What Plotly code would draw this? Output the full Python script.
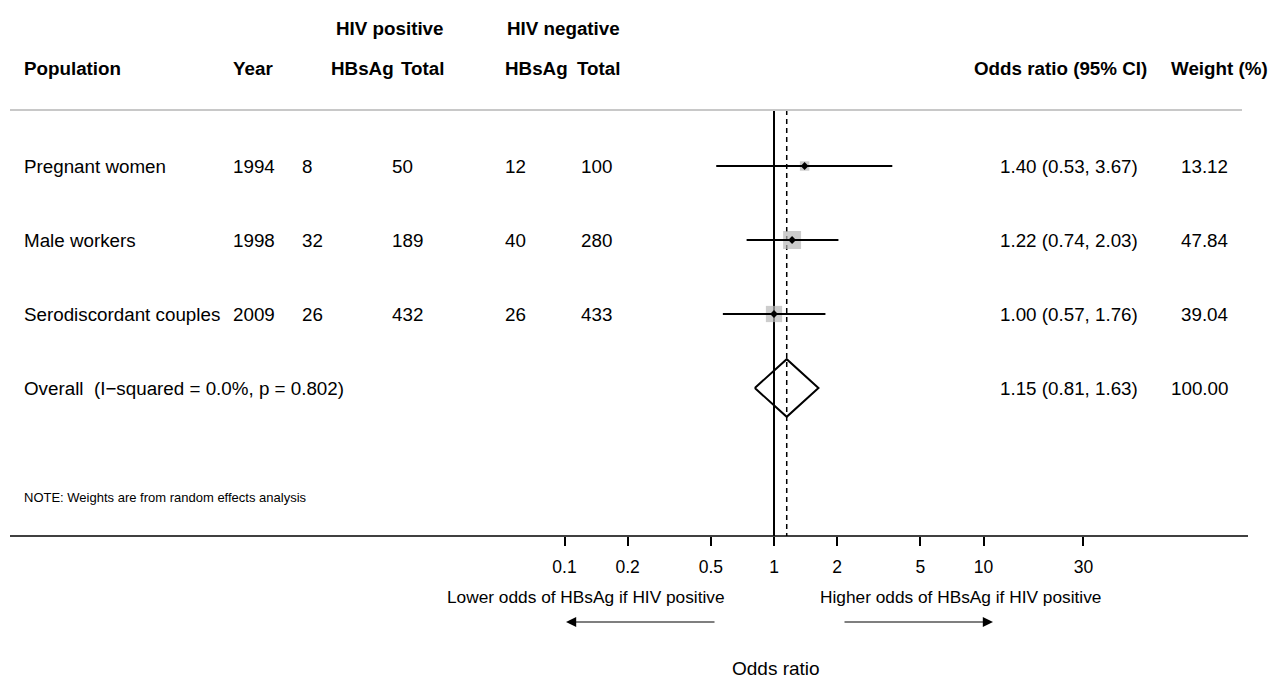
import math
import plotly.graph_objects as go

# ---------------- data ----------------
populations = ["Pregnant women", "Male workers", "Serodiscordant couples"]
years = [1994, 1998, 2009]
pos_hbsag = [8, 32, 26]
pos_total = [50, 189, 432]
neg_hbsag = [12, 40, 26]
neg_total = [100, 280, 433]
odds_ratio = [1.40, 1.22, 1.00]
ci_low = [0.53, 0.74, 0.57]
ci_high = [3.67, 2.03, 1.76]
weights = [13.12, 47.84, 39.04]

overall_label = "Overall  (I\u2212squared = 0.0%, p = 0.802)"
overall_or = 1.15
overall_low = 0.81
overall_high = 1.63
overall_weight = 100.00

null_value = 1
tick_values = [0.1, 0.2, 0.5, 1, 2, 5, 10, 30]
tick_labels = ["0.1", "0.2", "0.5", "1", "2", "5", "10", "30"]

# ---------------- layout constants ----------------
W, H = 1285, 680
PX_AT_1 = 774.0          # pixel of OR = 1
PX_PER_DECADE = 209.5
ROW0_PX = 166.0
ROW_PX = 74.0
FONT = "Liberation Sans, Arial, sans-serif"
TXT = 18.8


def px2log(px):
    return (px - PX_AT_1) / PX_PER_DECADE


def pyrow(py):
    return (py - ROW0_PX) / ROW_PX


def xp(px):
    return px / W


x_range = [px2log(0), px2log(W)]
y_range = [pyrow(H), pyrow(0)]
axis_row = pyrow(536)
header_row = pyrow(110)

fig = go.Figure()

rows = list(range(len(populations)))
overall_row = len(populations)

# null line and overall dashed line
fig.add_trace(go.Scatter(x=[null_value, null_value], y=[header_row, axis_row],
                         mode="lines", line=dict(color="black", width=2),
                         showlegend=False, hoverinfo="skip"))
fig.add_trace(go.Scatter(x=[overall_or, overall_or], y=[header_row, axis_row],
                         mode="lines", line=dict(color="black", width=1.5, dash="5px,4px"),
                         showlegend=False, hoverinfo="skip"))

# weight boxes
fig.add_trace(go.Scatter(x=odds_ratio, y=rows, mode="markers",
                         marker=dict(symbol="square", color="#b8b8b8",
                                     size=[2.6 * math.sqrt(w) for w in weights],
                                     line=dict(width=0)),
                         showlegend=False, hoverinfo="skip"))

# CI lines
for i in rows:
    fig.add_trace(go.Scatter(x=[ci_low[i], ci_high[i]], y=[i, i], mode="lines",
                             line=dict(color="black", width=2), hoverinfo="skip",
                             showlegend=False))

# point estimates
fig.add_trace(go.Scatter(x=odds_ratio, y=rows, mode="markers",
                         marker=dict(symbol="diamond", color="black", size=6,
                                     line=dict(width=0)),
                         showlegend=False, hoverinfo="skip"))

# overall diamond
dh = 0.39
fig.add_trace(go.Scatter(
    x=[overall_low, overall_or, overall_high, overall_or, overall_low],
    y=[overall_row, overall_row - dh, overall_row, overall_row + dh, overall_row],
    mode="lines", line=dict(color="black", width=2), showlegend=False,
    hoverinfo="skip"))

shapes = []
# header separator
shapes.append(dict(type="line", xref="paper", yref="y", x0=xp(10), x1=xp(1242),
                   y0=header_row, y1=header_row, line=dict(color="#c8c8c8", width=2)))
# x axis line
shapes.append(dict(type="line", xref="paper", yref="y", x0=xp(10), x1=xp(1248),
                   y0=axis_row, y1=axis_row, line=dict(color="black", width=1.5)))

ann = []


def txt(x, y, s, anchor="left", bold=False, size=TXT):
    ann.append(dict(x=x, y=y, xref="paper", yref="y", text=(f"<b>{s}</b>" if bold else s),
                    showarrow=False, xanchor=anchor, yanchor="middle",
                    font=dict(family=FONT, size=size, color="black")))


# headers
hdr1 = pyrow(28)
hdr2 = pyrow(68)
txt(xp(446), hdr1, "HIV positive", "right", True)
txt(xp(622), hdr1, "HIV negative", "right", True)
txt(xp(22), hdr2, "Population", "left", True)
txt(xp(231), hdr2, "Year", "left", True)
txt(xp(329), hdr2, "HBsAg", "left", True)
txt(xp(446), hdr2, "Total", "right", True)
txt(xp(503), hdr2, "HBsAg", "left", True)
txt(xp(622), hdr2, "Total", "right", True)
txt(xp(1149), hdr2, "Odds ratio (95% CI)", "right", True)
txt(xp(1270), hdr2, "Weight (%)", "right", True)

for i in rows:
    txt(xp(22), i, populations[i])
    txt(xp(231), i, str(years[i]))
    txt(xp(300), i, str(pos_hbsag[i]))
    txt(xp(390), i, str(pos_total[i]))
    txt(xp(503), i, str(neg_hbsag[i]))
    txt(xp(579), i, str(neg_total[i]))
    txt(xp(1140), i, f"{odds_ratio[i]:.2f} ({ci_low[i]:.2f}, {ci_high[i]:.2f})", "right")
    txt(xp(1230), i, f"{weights[i]:.2f}", "right")

txt(xp(22), overall_row, overall_label)
txt(xp(1140), overall_row, f"{overall_or:.2f} ({overall_low:.2f}, {overall_high:.2f})", "right")
txt(xp(1230), overall_row, f"{overall_weight:.2f}", "right")

txt(xp(22), pyrow(497), "NOTE: Weights are from random effects analysis", size=13)

# direction labels
txt(xp(727), pyrow(597), "Lower odds of HBsAg if HIV positive", "right", size=17.3)
txt(xp(818), pyrow(597), "Higher odds of HBsAg if HIV positive", "left", size=17.3)
txt(xp(776), pyrow(668), "Odds ratio", "center", size=19)

# arrows
arrow_row = pyrow(622)
for head, tail in [(566, 716), (993, 843)]:
    ann.append(dict(x=px2log(head), y=arrow_row, xref="x", yref="y",
                    ax=px2log(tail), ay=arrow_row, axref="x", ayref="y",
                    showarrow=True, arrowhead=2, arrowsize=1.7, arrowwidth=1.2,
                    arrowcolor="black", text=""))

fig.update_layout(
    width=W, height=H,
    margin=dict(l=0, r=0, t=0, b=0),
    paper_bgcolor="white", plot_bgcolor="white",
    showlegend=False,
    shapes=shapes, annotations=ann,
    font=dict(family=FONT, color="black"),
    xaxis=dict(type="log", range=x_range, showgrid=False, zeroline=False,
               showline=False, ticks="outside", ticklen=9, tickwidth=1.5,
               tickcolor="black", tickvals=tick_values, ticktext=tick_labels,
               tickfont=dict(family=FONT, size=17.5, color="black"),
               anchor="free", position=(H - 536) / H, fixedrange=True,
               ticklabelstandoff=6),
    yaxis=dict(range=y_range, showgrid=False, zeroline=False, showline=False,
               showticklabels=False, ticks="", fixedrange=True),
)

fig.write_html("out.html")
